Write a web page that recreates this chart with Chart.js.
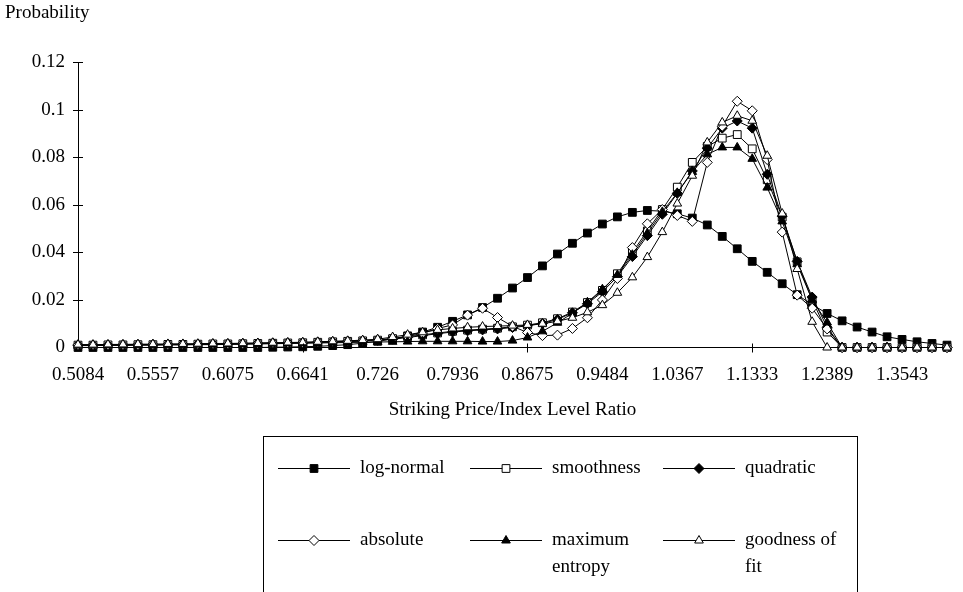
<!DOCTYPE html>
<html>
<head>
<meta charset="utf-8">
<script src="https://cdn.jsdelivr.net/npm/chart.js@4.4.0/dist/chart.umd.min.js"></script>
<style>
body { margin: 0; background: #fff; }
canvas { display: block; }
</style>
</head>
<body>
<canvas id="probChart" width="963" height="592"></canvas>
<script>
// striking price / index level ratio (every 5th one is shown on the axis)
const ratioLabels = [
  '0.5084', '0.5175', '0.5268', '0.5363', '0.5459',
  '0.5557', '0.5657', '0.5759', '0.5862', '0.5967',
  '0.6075', '0.6184', '0.6295', '0.6409', '0.6524',
  '0.6641', '0.6760', '0.6882', '0.7006', '0.7132',
  '0.726', '0.7390', '0.7523', '0.7659', '0.7796',
  '0.7936', '0.8079', '0.8224', '0.8372', '0.8522',
  '0.8675', '0.8831', '0.8990', '0.9151', '0.9316',
  '0.9484', '0.9654', '0.9828', '1.0005', '1.0185',
  '1.0367', '1.0553', '1.0743', '1.0936', '1.1133',
  '1.1333', '1.1537', '1.1744', '1.1955', '1.2170',
  '1.2389', '1.2612', '1.2838', '1.3069', '1.3304',
  '1.3543', '1.3786', '1.4034', '1.4286'
];

const logNormal = [
  0, 0, 0, 0, 0, 0, 0, 0, 0, 0,
  0, 0, 0, 0.0001, 0.0002, 0.0003, 0.0005, 0.0008, 0.0012, 0.0018,
  0.0026, 0.0036, 0.0049, 0.0065, 0.0085, 0.0110, 0.0137, 0.0168, 0.0207, 0.0250,
  0.0294, 0.0343, 0.0393, 0.0438, 0.0481, 0.0519, 0.0549, 0.0568, 0.0576, 0.0573,
  0.0562, 0.0544, 0.0515, 0.0467, 0.0415, 0.0362, 0.0316, 0.0268, 0.0222, 0.0180,
  0.0143, 0.0112, 0.0086, 0.0065, 0.0045, 0.0034, 0.0024, 0.0017, 0.0010
];
const smoothness = [
  0.0010, 0.0010, 0.0011, 0.0011, 0.0012, 0.0012, 0.0013, 0.0013, 0.0014, 0.0015,
  0.0015, 0.0016, 0.0017, 0.0018, 0.0019, 0.0020, 0.0022, 0.0024, 0.0026, 0.0028,
  0.0031, 0.0037, 0.0045, 0.0053, 0.0061, 0.0068, 0.0073, 0.0077, 0.0081, 0.0087,
  0.0094, 0.0104, 0.0121, 0.0149, 0.0189, 0.0240, 0.0310, 0.0400, 0.0490, 0.0580,
  0.0674, 0.0778, 0.0845, 0.0880, 0.0895, 0.0835, 0.0705, 0.0548, 0.0360, 0.0200,
  0.0065, 0, 0, 0, 0, 0, 0, 0, 0
];
const quadratic = [
  0.0009, 0.0009, 0.0010, 0.0010, 0.0011, 0.0011, 0.0012, 0.0012, 0.0013, 0.0014,
  0.0014, 0.0015, 0.0016, 0.0017, 0.0018, 0.0019, 0.0021, 0.0023, 0.0025, 0.0027,
  0.0030, 0.0035, 0.0042, 0.0050, 0.0058, 0.0065, 0.0070, 0.0074, 0.0078, 0.0084,
  0.0091, 0.0101, 0.0118, 0.0146, 0.0184, 0.0234, 0.0298, 0.0382, 0.0470, 0.0560,
  0.0648, 0.0742, 0.0838, 0.0922, 0.0952, 0.0922, 0.0728, 0.0552, 0.0362, 0.0212,
  0.0085, 0, 0, 0, 0, 0, 0, 0, 0
];
const absolute = [
  0.0011, 0.0011, 0.0011, 0.0012, 0.0012, 0.0013, 0.0013, 0.0014, 0.0014, 0.0015,
  0.0016, 0.0017, 0.0018, 0.0019, 0.0020, 0.0021, 0.0023, 0.0025, 0.0027, 0.0029,
  0.0032, 0.0037, 0.0046, 0.0060, 0.0080, 0.0095, 0.0136, 0.0165, 0.0126, 0.0089,
  0.0063, 0.0050, 0.0052, 0.0080, 0.0125, 0.0200, 0.0290, 0.0420, 0.0520, 0.0580,
  0.0555, 0.0530, 0.0778, 0.0930, 0.1035, 0.0995, 0.0790, 0.0485, 0.0220, 0.0165,
  0.0078, 0, 0, 0, 0, 0, 0, 0, 0
];
const maxEntropy = [
  0.0008, 0.0008, 0.0009, 0.0009, 0.0010, 0.0010, 0.0011, 0.0011, 0.0012, 0.0012,
  0.0013, 0.0014, 0.0015, 0.0016, 0.0017, 0.0018, 0.0019, 0.0020, 0.0021, 0.0022,
  0.0023, 0.0024, 0.0025, 0.0026, 0.0026, 0.0026, 0.0026, 0.0025, 0.0025, 0.0029,
  0.0042, 0.0068, 0.0104, 0.0144, 0.0190, 0.0245, 0.0305, 0.0390, 0.0480, 0.0570,
  0.0650, 0.0738, 0.0812, 0.0841, 0.0841, 0.0793, 0.0672, 0.0530, 0.0350, 0.0200,
  0.0105, 0, 0, 0, 0, 0, 0, 0, 0
];
const goodnessFit = [
  0.0012, 0.0012, 0.0013, 0.0013, 0.0014, 0.0014, 0.0015, 0.0015, 0.0016, 0.0017,
  0.0017, 0.0018, 0.0019, 0.0020, 0.0021, 0.0022, 0.0024, 0.0026, 0.0028, 0.0031,
  0.0035, 0.0044, 0.0054, 0.0064, 0.0074, 0.0080, 0.0085, 0.0088, 0.0090, 0.0092,
  0.0095, 0.0100, 0.0110, 0.0125, 0.0148, 0.0178, 0.0230, 0.0295, 0.0380, 0.0485,
  0.0605, 0.0722, 0.0862, 0.0946, 0.0974, 0.0953, 0.0806, 0.0563, 0.0330, 0.0108,
  0, 0, 0, 0, 0, 0, 0, 0, 0
];

const seriesNames = ['log-normal', 'smoothness', 'quadratic', 'absolute', 'maximum entropy', 'goodness of fit'];
const seriesData = [logNormal, smoothness, quadratic, absolute, maxEntropy, goodnessFit];

const markerStyles = [
  { shape: 'rect', fill: '#000', r: 5.5 },
  { shape: 'rect', fill: '#fff', r: 5.5 },
  { shape: 'rectRot', fill: '#000', r: 5 },
  { shape: 'rectRot', fill: '#fff', r: 5 },
  { shape: 'triangle', fill: '#000', r: 5 },
  { shape: 'triangle', fill: '#fff', r: 5 }
];

const serif = { family: '"Liberation Serif", "Times New Roman", serif', size: 19 };
const serifCss = '19px "Liberation Serif", "Times New Roman", serif';

function line(ctx, x1, y1, x2, y2) {
  ctx.beginPath();
  ctx.moveTo(x1, y1);
  ctx.lineTo(x2, y2);
  ctx.stroke();
}

function wrapText(ctx, text, maxWidth) {
  const words = text.split(' ');
  const lines = [];
  let cur = '';
  words.forEach(w => {
    const test = cur ? cur + ' ' + w : w;
    if (cur && ctx.measureText(test).width > maxWidth) {
      lines.push(cur);
      cur = w;
    } else {
      cur = test;
    }
  });
  lines.push(cur);
  return lines;
}

// cross tick marks, y title and the boxed legend (Excel look)
const extras = {
  id: 'extras',
  afterDraw(chart) {
    const ctx = chart.ctx;
    const xs = chart.scales.x, ys = chart.scales.y;
    ctx.save();
    ctx.strokeStyle = '#000';
    ctx.lineWidth = 1;

    ys.ticks.forEach(t => {
      if (t.value === 0) return;
      const py = Math.round(ys.getPixelForValue(t.value)) + 0.5;
      line(ctx, xs.left - 5, py, xs.left + 5, py);
    });
    [15, 30, 45].forEach(i => {
      const px = Math.round(xs.getPixelForValue(i)) + 0.5;
      line(ctx, px, ys.bottom - 4, px, ys.bottom + 5);
    });

    ctx.font = serifCss;
    ctx.fillStyle = '#000';
    ctx.textBaseline = 'middle';
    ctx.textAlign = 'left';
    ctx.fillText('Probability', 5, 13);

    // legend box, cut by the bottom of the picture
    ctx.strokeRect(263.5, 436.5, 594, 170);
    const cols = [278, 470, 663];
    const rows = [468, 540];
    chart.data.datasets.forEach((ds, i) => {
      const lx = cols[i % 3], ly = rows[Math.floor(i / 3)] + 0.5;
      ctx.strokeStyle = '#000';
      line(ctx, lx, ly, lx + 72, ly);
      ctx.fillStyle = ds.pointBackgroundColor;
      Chart.helpers.drawPoint(ctx, {
        pointStyle: ds.pointStyle, radius: ds.pointRadius, rotation: 0, borderWidth: 1
      }, lx + 36, ly);
      ctx.fillStyle = '#000';
      wrapText(ctx, ds.label, 100).forEach((t, j) => {
        ctx.fillText(t, lx + 82, ly + j * 27);
      });
    });
    ctx.restore();
  }
};

const datasets = seriesData.map((d, i) => ({
  label: seriesNames[i],
  data: d,
  borderColor: '#000',
  borderWidth: 1,
  pointStyle: markerStyles[i].shape,
  pointRadius: markerStyles[i].r,
  pointBackgroundColor: markerStyles[i].fill,
  pointBorderColor: '#000',
  pointBorderWidth: 1,
  tension: 0,
  clip: false,
  order: seriesData.length - i
}));

new Chart(document.getElementById('probChart'), {
  type: 'line',
  data: { labels: ratioLabels, datasets: datasets },
  options: {
    responsive: false,
    animation: false,
    devicePixelRatio: 1,
    layout: { padding: { left: 0, top: 62, right: 5, bottom: 166.5 } },
    plugins: {
      legend: { display: false },
      tooltip: { enabled: false }
    },
    scales: {
      x: {
        grid: { display: false, drawTicks: false },
        border: { color: '#000', width: 1 },
        ticks: {
          autoSkip: false,
          maxRotation: 0,
          padding: 16,
          color: '#000',
          font: serif,
          callback: function(v, i) {
            return i % 5 === 0 ? this.getLabelForValue(v) : '';
          }
        },
        title: {
          display: true,
          text: 'Striking Price/Index Level Ratio',
          color: '#000',
          font: serif,
          padding: { top: 4, bottom: 4 }
        },
        afterFit: s => { s.height = 78; }
      },
      y: {
        min: 0,
        max: 0.12,
        grid: { display: false, drawTicks: false },
        border: { color: '#000', width: 1 },
        ticks: {
          stepSize: 0.02,
          padding: 13,
          color: '#000',
          font: serif,
          callback: v => String(+v.toFixed(2))
        },
        afterFit: s => { s.width = 78; }
      }
    }
  },
  plugins: [extras]
});
</script>
</body>
</html>
